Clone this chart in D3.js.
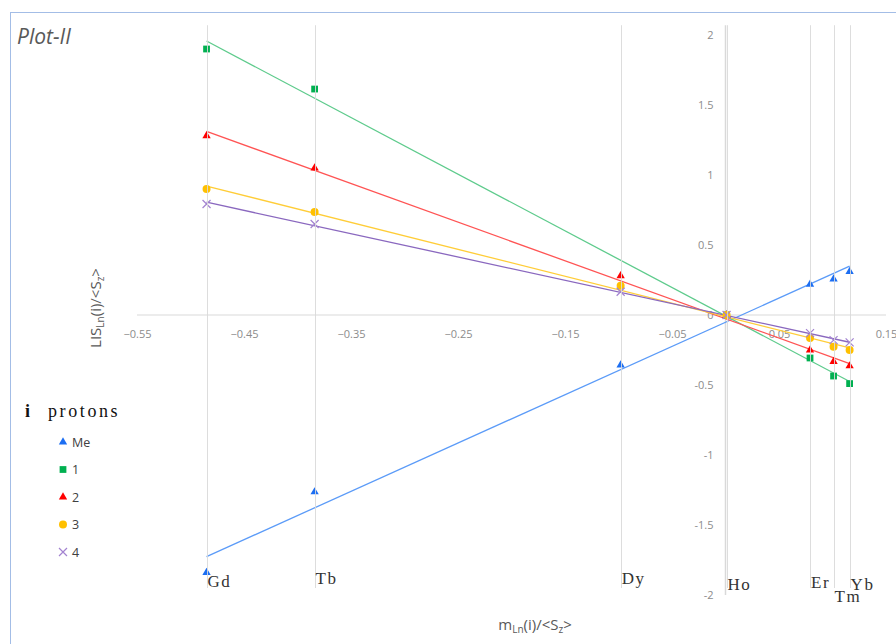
<!DOCTYPE html>
<meta charset="utf-8">
<script src="https://d3js.org/d3.v7.min.js"></script>
<style>
  body { margin: 0; background: #fff; }
</style>
<svg id="chart" width="896" height="644" font-family="'Open Sans', 'Noto Sans', sans-serif"></svg>
<script>
  // lanthanide positions along the x axis, m_Ln(i)/<Sz>
  var lnNames = ["Gd", "Tb", "Dy", "Ho", "Er", "Tm", "Yb"];
  var lnX = [-0.485, -0.384, -0.098, 0.001, 0.079, 0.101, 0.116];

  // LIS_Ln(i)/<Sz> for each proton set (null = no point)
  var seriesNames = ["Me", "1", "2", "3", "4"];
  var meValues = [-1.84, -1.264, -0.357, 0, 0.219, 0.257, 0.31];
  var p1Values = [1.9, 1.614, null, 0, -0.307, -0.436, -0.49];
  var p2Values = [1.28, 1.05, 0.28, 0, -0.25, -0.333, -0.364];
  var p3Values = [0.9, 0.736, 0.209, 0, -0.165, -0.226, -0.25];
  var p4Values = [0.793, 0.65, 0.166, 0, -0.13, -0.18, -0.195];

  var xTicks = [-0.55, -0.45, -0.35, -0.25, -0.15, -0.05, 0.05, 0.15];
  var yTicks = [-2, -1.5, -1, -0.5, 0, 0.5, 1, 1.5, 2];

  // serif, typewriter-like look for the element labels
  var typeFace = "'Liberation Serif', 'DejaVu Serif', serif";

  var svg = d3.select("svg");

  var x = d3.scaleLinear().domain([-0.55, 0.15]).range([137, 886]);
  var y = d3.scaleLinear().domain([-2, 2]).range([595, 35]);

  // chart frame
  svg.append("rect")
    .attr("x", 10.5).attr("y", 12.5)
    .attr("width", 950).attr("height", 700)
    .attr("fill", "none").attr("stroke", "#a3bde6");

  svg.append("text")
    .attr("x", 17).attr("y", 44)
    .attr("font-size", 21).attr("font-style", "italic")
    .attr("fill", "#595959")
    .text("Plot-II");

  var series = [
    { name: seriesNames[0], values: meValues, marker: "#1c6ef2", line: "#5b9bf8", shape: "tri" },
    { name: seriesNames[1], values: p1Values, marker: "#00b050", line: "#5ecb8c", shape: "sq" },
    { name: seriesNames[2], values: p2Values, marker: "#ff0000", line: "#ff5454", shape: "tri" },
    { name: seriesNames[3], values: p3Values, marker: "#ffc000", line: "#ffcd38", shape: "circ" },
    { name: seriesNames[4], values: p4Values, marker: "#a383d0", line: "#8a68bf", shape: "x" }
  ];

  // axes lines
  svg.append("line")
    .attr("x1", x(-0.55)).attr("x2", x(0.15))
    .attr("y1", y(0)).attr("y2", y(0))
    .attr("stroke", "#d9d9d9");
  svg.append("line")
    .attr("x1", x(0)).attr("x2", x(0))
    .attr("y1", y(2.07)).attr("y2", y(-2))
    .attr("stroke", "#d9d9d9").attr("stroke-width", 1.5);

  var xAxis = svg.append("g")
    .attr("transform", "translate(0," + y(0) + ")")
    .call(d3.axisBottom(x).tickValues(xTicks).tickSize(0).tickPadding(15)
      .tickFormat(d3.format(".2f")));
  var yAxis = svg.append("g")
    .attr("transform", "translate(" + x(0) + ",0)")
    .call(d3.axisLeft(y).tickValues(yTicks).tickSize(0).tickPadding(12)
      .tickFormat(function(d) { return String(d); }));
  [xAxis, yAxis].forEach(function(a) {
    a.select(".domain").remove();
    a.attr("font-family", null);
    a.selectAll("text")
      .attr("font-size", 11)
      .attr("fill", "#8c8c8c");
  });

  // trendlines (least squares fit of each series)
  series.forEach(function(s) {
    var pts = lnX.map(function(v, i) { return [v, s.values[i]]; })
      .filter(function(p) { return p[1] !== null; });
    var mx = d3.mean(pts, function(p) { return p[0]; });
    var my = d3.mean(pts, function(p) { return p[1]; });
    var sxy = d3.sum(pts, function(p) { return (p[0] - mx) * (p[1] - my); });
    var sxx = d3.sum(pts, function(p) { return (p[0] - mx) * (p[0] - mx); });
    var slope = sxy / sxx, icpt = my - slope * mx;
    var ext = d3.extent(pts, function(p) { return p[0]; });
    svg.append("line")
      .attr("x1", x(ext[0])).attr("y1", y(slope * ext[0] + icpt))
      .attr("x2", x(ext[1])).attr("y2", y(slope * ext[1] + icpt))
      .attr("stroke", s.line).attr("stroke-width", 1.3);
  });

  function drawMarker(g, shape, color, cx, cy) {
    if (shape === "x") {
      g.append("path")
        .attr("d", "M" + (cx - 4) + "," + (cy - 4) + "L" + (cx + 4) + "," + (cy + 4) +
                   "M" + (cx - 4) + "," + (cy + 4) + "L" + (cx + 4) + "," + (cy - 4))
        .attr("stroke", color).attr("stroke-width", 1.2).attr("fill", "none");
    } else {
      var type = shape === "tri" ? d3.symbolTriangle : shape === "sq" ? d3.symbolSquare : d3.symbolCircle;
      var size = shape === "tri" ? 30 : shape === "sq" ? 46 : 50;
      g.append("path")
        .attr("d", d3.symbol().type(type).size(size)())
        .attr("transform", "translate(" + cx + "," + cy + ")")
        .attr("fill", color);
    }
  }

  // markers
  var markG = svg.append("g");
  series.forEach(function(s) {
    s.values.forEach(function(v, i) {
      if (v === null) return;
      drawMarker(markG, s.shape, s.marker, x(lnX[i]), y(v));
    });
  });

  // vertical reference lines for each lanthanide
  svg.append("g").selectAll("line")
    .data(lnX)
    .enter().append("line")
      .attr("x1", function(d) { return Math.round(x(d)) + 0.5; })
      .attr("x2", function(d) { return Math.round(x(d)) + 0.5; })
      .attr("y1", y(2.07)).attr("y2", y(-1.95))
      .attr("stroke", "#d9d9d9").attr("stroke-opacity", 0.9);

  // lanthanide labels
  var labelBase = { Gd: 587, Tb: 584, Dy: 584, Ho: 590, Er: 588, Tm: 602, Yb: 590 };
  svg.append("g").selectAll("text")
    .data(lnNames)
    .enter().append("text")
      .attr("x", function(d, i) { return x(lnX[i]) + 1; })
      .attr("y", function(d) { return labelBase[d]; })
      .style("font-family", typeFace)
      .style("letter-spacing", "1.5px")
      .attr("font-size", 17)
      .attr("fill", "#333")
      .text(function(d) { return d; });

  // axis titles
  var xt = svg.append("text")
    .attr("x", 535).attr("y", 630)
    .attr("text-anchor", "middle")
    .attr("font-size", 15).attr("fill", "#595959");
  xt.append("tspan").text("m");
  xt.append("tspan").attr("font-size", 10).attr("dy", 3).text("Ln");
  xt.append("tspan").attr("dy", -3).text("(i)/<S");
  xt.append("tspan").attr("font-size", 10).attr("dy", 3).text("z");
  xt.append("tspan").attr("dy", -3).text(">");

  var yt = svg.append("text")
    .attr("transform", "translate(101,308) rotate(-90)")
    .attr("text-anchor", "middle")
    .attr("font-size", 15).attr("fill", "#595959");
  yt.append("tspan").text("LIS");
  yt.append("tspan").attr("font-size", 10).attr("dy", 3).text("Ln");
  yt.append("tspan").attr("dy", -3).text("(i)/<S");
  yt.append("tspan").attr("font-size", 10).attr("dy", 3).text("z");
  yt.append("tspan").attr("dy", -3).text(">");

  // legend
  var leg = svg.append("g");
  var lt = leg.append("text")
    .attr("x", 25).attr("y", 417)
    .style("font-family", typeFace)
    .attr("font-size", 18).attr("fill", "#111");
  lt.append("tspan").attr("font-weight", "bold").text("i");
  lt.append("tspan").attr("x", 48).style("letter-spacing", "2.6px").text("protons");

  series.forEach(function(s, i) {
    var ly = 442 + i * 27.5;
    drawMarker(leg, s.shape, s.marker, 63, ly);
    leg.append("text")
      .attr("x", 72).attr("y", ly + 4.5)
      .attr("font-size", 12.5).attr("fill", "#404040")
      .text(s.name);
  });
</script>
